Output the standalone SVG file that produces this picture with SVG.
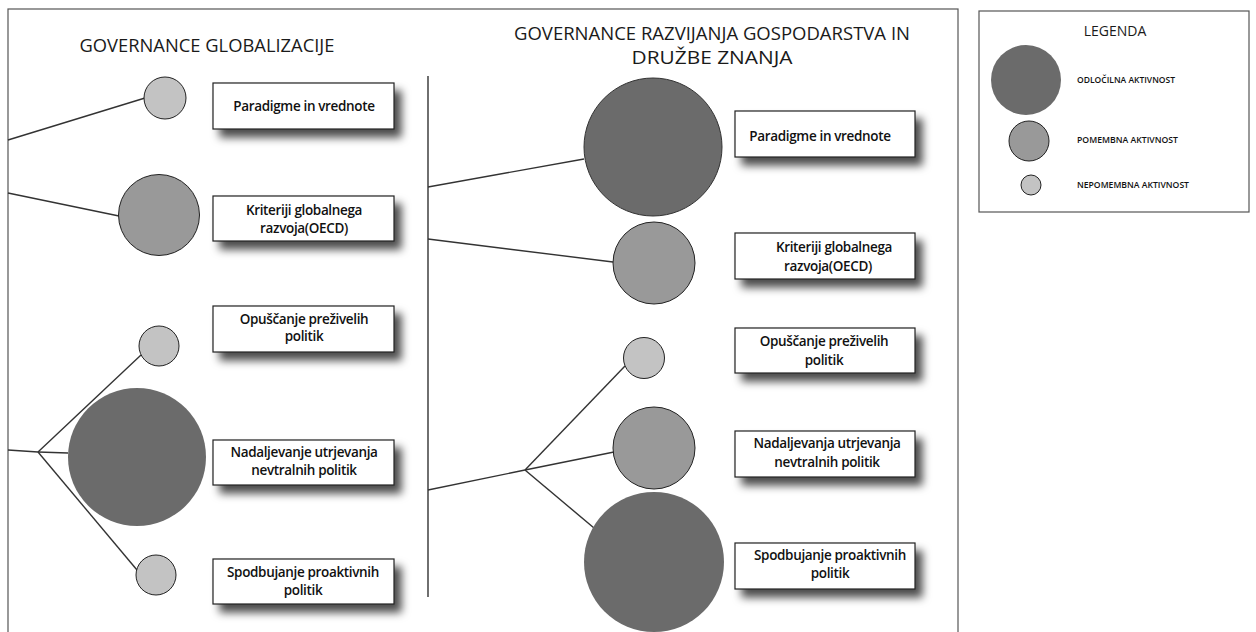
<svg xmlns="http://www.w3.org/2000/svg" width="1256" height="632" viewBox="0 0 1256 632">
<defs>
<filter id="sh" x="-10%" y="-20%" width="130%" height="170%">
<feDropShadow dx="7" dy="8" stdDeviation="4" flood-color="#000" flood-opacity="0.7"/>
</filter>
<style>
.frame{fill:#fff;stroke:#555;stroke-width:1.2}
.box{fill:#fff;stroke:#222;stroke-width:1.2;filter:url(#sh)}
.lbl{font-family:"Open Sans","Liberation Sans",sans-serif;font-size:13.5px;font-weight:600;fill:#111;text-anchor:middle;letter-spacing:-0.35px}
.ttl{font-family:"Open Sans","Liberation Sans",sans-serif;font-size:17.5px;fill:#1a1a1a;text-anchor:middle}
.leg{font-family:"Open Sans","Liberation Sans",sans-serif;font-size:8.5px;font-weight:600;fill:#111}
.s{fill:#c3c3c3;stroke:#222;stroke-width:1}
.m{fill:#999;stroke:#222;stroke-width:1}
.b{fill:#6b6b6b;stroke:#333;stroke-width:1}
.bn{fill:#6b6b6b}
.ln{stroke:#333;stroke-width:1.4;fill:none}
</style>
</defs>
<rect width="1256" height="632" fill="#fff"/>
<rect class="frame" x="8" y="9" width="950" height="640"/>

<text class="ttl" x="207" y="52" textLength="255" lengthAdjust="spacingAndGlyphs">GOVERNANCE GLOBALIZACIJE</text>
<text class="ttl" x="712" y="40" textLength="396" lengthAdjust="spacingAndGlyphs">GOVERNANCE RAZVIJANJA GOSPODARSTVA IN</text>
<text class="ttl" x="712" y="64" textLength="161" lengthAdjust="spacingAndGlyphs">DRUŽBE ZNANJA</text>

<g id="connectors">
<line class="ln" x1="428" y1="76" x2="428" y2="597"/>
<line class="ln" x1="8" y1="140" x2="145" y2="98"/>
<line class="ln" x1="8" y1="193" x2="119" y2="216"/>
<line class="ln" x1="8" y1="450" x2="38" y2="452"/>
<line class="ln" x1="38" y1="452" x2="141" y2="355"/>
<line class="ln" x1="38" y1="452" x2="68" y2="453"/>
<line class="ln" x1="38" y1="452" x2="137" y2="570"/>
<line class="ln" x1="428" y1="187" x2="584" y2="159"/>
<line class="ln" x1="428" y1="239" x2="613" y2="262"/>
<line class="ln" x1="428" y1="490" x2="525" y2="470"/>
<line class="ln" x1="525" y1="470" x2="625" y2="366"/>
<line class="ln" x1="525" y1="470" x2="614" y2="452"/>
<line class="ln" x1="525" y1="470" x2="594" y2="528"/>
</g>

<g id="l1"><circle class="s" cx="165" cy="98" r="21"/>
<rect class="box" x="213" y="83" width="181" height="46"/>
<text class="lbl" x="304" y="111">Paradigme in vrednote</text></g>

<g id="l2"><circle class="m" cx="159" cy="215" r="40.5"/>
<rect class="box" x="213" y="196" width="181" height="45"/>
<text class="lbl" x="304" y="215">Kriteriji globalnega</text>
<text class="lbl" x="304" y="233">razvoja(OECD)</text></g>

<g id="l3"><circle class="s" cx="159" cy="346" r="20"/>
<rect class="box" x="213" y="306" width="181" height="46"/>
<text class="lbl" x="304" y="324">Opuščanje preživelih</text>
<text class="lbl" x="304" y="341">politik</text></g>

<g id="l4"><circle class="bn" cx="137" cy="457" r="69"/>
<rect class="box" x="213" y="440" width="181" height="45"/>
<text class="lbl" x="304" y="457">Nadaljevanje utrjevanja</text>
<text class="lbl" x="304" y="475">nevtralnih politik</text></g>

<g id="l5"><circle class="s" cx="156" cy="575" r="20"/>
<rect class="box" x="213" y="559" width="181" height="45"/>
<text class="lbl" x="303" y="577">Spodbujanje proaktivnih</text>
<text class="lbl" x="303" y="595">politik</text></g>

<g id="r1"><circle class="b" cx="653" cy="147" r="69"/>
<rect class="box" x="735" y="111" width="180" height="46"/>
<text class="lbl" x="820" y="141">Paradigme in vrednote</text></g>

<g id="r2"><circle class="m" cx="654" cy="263" r="41"/>
<rect class="box" x="735" y="233" width="180" height="46"/>
<text class="lbl" x="834" y="252">Kriteriji globalnega</text>
<text class="lbl" x="828" y="271">razvoja(OECD)</text></g>

<g id="r3"><circle class="s" cx="644" cy="358" r="20.5"/>
<rect class="box" x="735" y="328" width="180" height="45"/>
<text class="lbl" x="824" y="346">Opuščanje preživelih</text>
<text class="lbl" x="824" y="365">politik</text></g>

<g id="r4"><circle class="m" cx="654" cy="448" r="41"/>
<rect class="box" x="735" y="431" width="180" height="46"/>
<text class="lbl" x="827" y="448">Nadaljevanja utrjevanja</text>
<text class="lbl" x="827" y="467">nevtralnih politik</text></g>

<g id="r5"><circle class="bn" cx="654" cy="562" r="70"/>
<rect class="box" x="735" y="543" width="180" height="46"/>
<text class="lbl" x="830" y="560">Spodbujanje proaktivnih</text>
<text class="lbl" x="830" y="578">politik</text></g>

<g id="legend">
<rect class="frame" x="979" y="11" width="270" height="201"/>
<text class="ttl" x="1115" y="36" style="font-size:14px">LEGENDA</text>
<circle class="bn" cx="1026" cy="80" r="35"/>
<text class="leg" x="1077" y="83" textLength="98" lengthAdjust="spacingAndGlyphs">ODLOČILNA AKTIVNOST</text>
<circle class="m" cx="1029" cy="141" r="20"/>
<text class="leg" x="1077" y="143" textLength="101" lengthAdjust="spacingAndGlyphs">POMEMBNA AKTIVNOST</text>
<circle class="s" cx="1031" cy="185" r="10"/>
<text class="leg" x="1077" y="188" textLength="112" lengthAdjust="spacingAndGlyphs">NEPOMEMBNA AKTIVNOST</text>
</g>
</svg>
